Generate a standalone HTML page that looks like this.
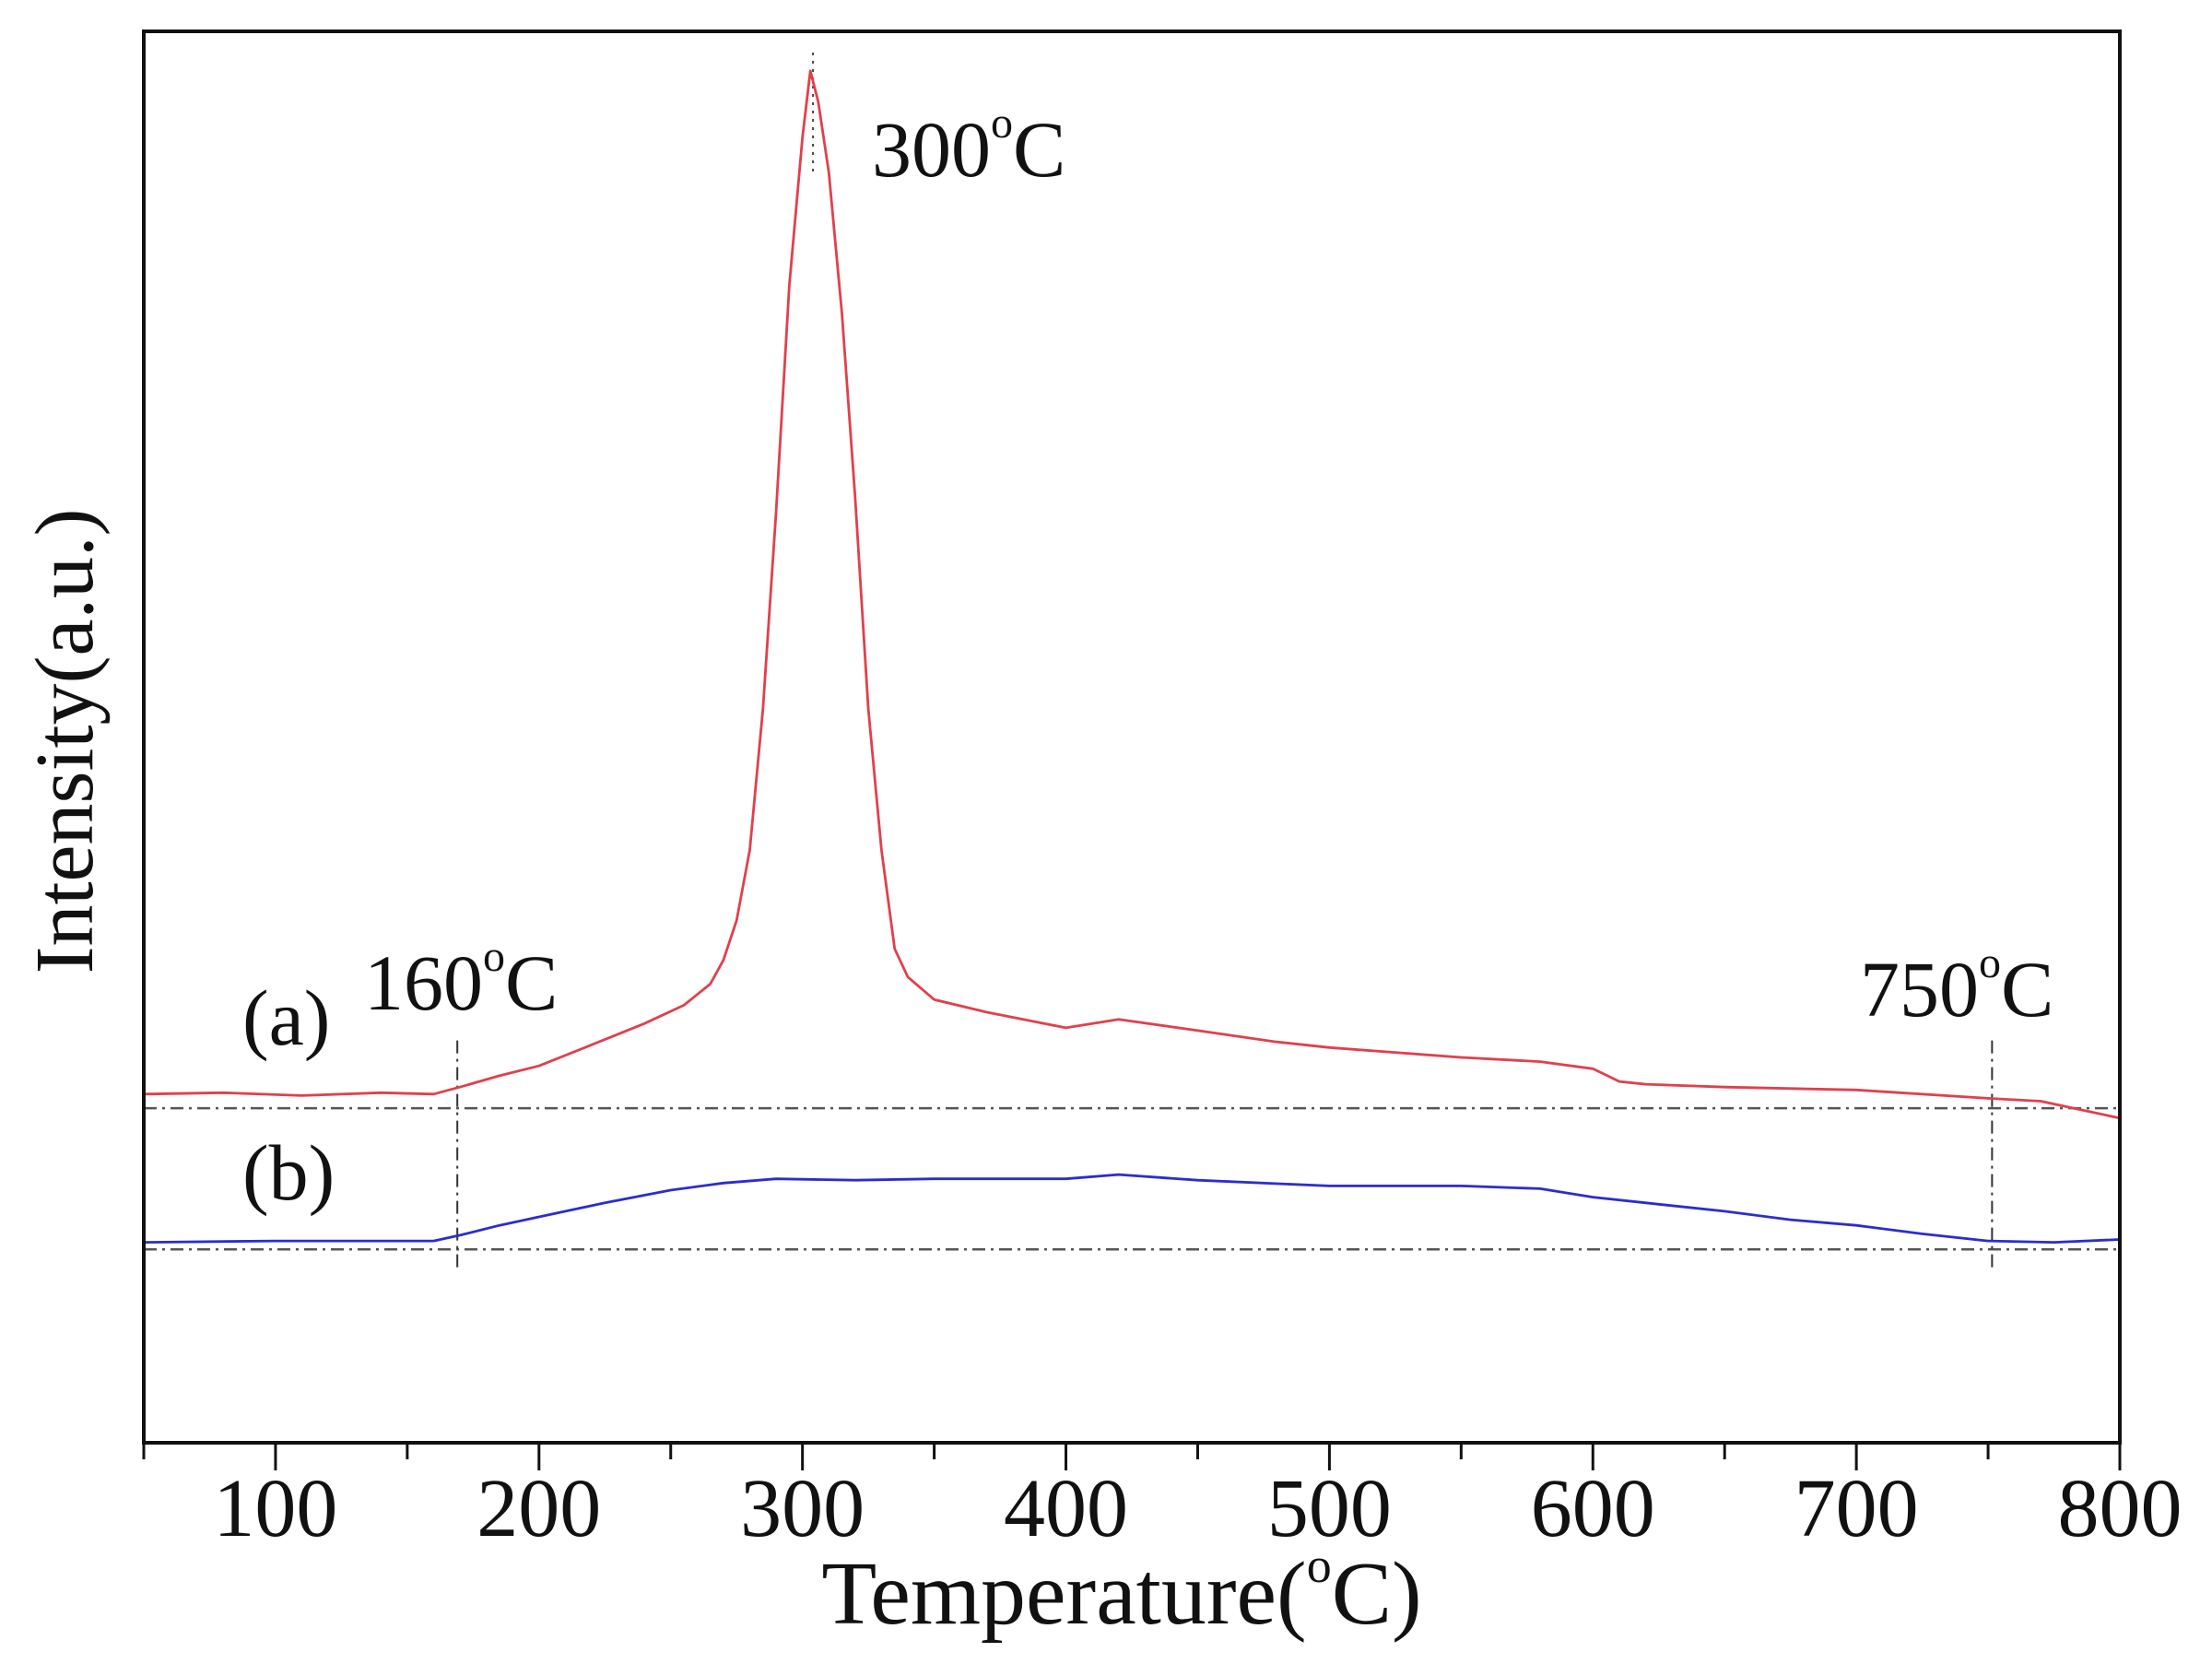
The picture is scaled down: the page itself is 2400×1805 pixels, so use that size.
<!DOCTYPE html>
<html><head><meta charset="utf-8"><style>
html,body{margin:0;padding:0;background:#fff;}
svg{display:block;}
text{font-family:"Liberation Serif",serif;fill:#111;}
</style></head><body>
<svg id="chart" width="2400" height="1805" viewBox="0 0 2400 1805" xmlns="http://www.w3.org/2000/svg">
<g id="plot"></g>
</svg>
<script>
const tempsA = [50,80,110,140,160,170,185,200,220,240,255,265,270,275,280,285,290,295,300,303,306,310,315,320,325,330,335,340,350,370,400,420,450,480,500,550,580,600,610,620,650,700,750,770,800];
const intensA = [24.7,24.8,24.6,24.8,24.7,25.2,26.0,26.7,28.2,29.7,31.0,32.5,34.2,37,42,52,66,82,92.5,97.2,95,90,80,67,52,42,35,33,31.4,30.5,29.4,30.0,29.2,28.4,28.0,27.3,27.0,26.5,25.6,25.4,25.2,25.0,24.4,24.2,23.0];
const tempsB = [50,100,160,170,185,200,225,250,270,290,320,350,400,420,450,500,550,580,600,625,650,675,700,725,750,775,800];
const intensB = [14.2,14.3,14.3,14.7,15.4,16.0,17.0,17.9,18.4,18.7,18.6,18.7,18.7,19.0,18.6,18.2,18.2,18.0,17.4,16.9,16.4,15.8,15.4,14.8,14.3,14.2,14.4];
const xTicks = [100,200,300,400,500,600,700,800];
const xMinor = [50,150,250,350,450,550,650,750];
const baseA = 23.7, baseB = 13.7;
const markTemps = [169, 751.5];
const peakTemp = 304;

const L=156,R=2300,T=34,B=1565;
const X0=50,X1=800,Y0=0,Y1=100;
const xS=v=>L+(v-X0)/(X1-X0)*(R-L);
const yS=v=>B-(v-Y0)/(Y1-Y0)*(B-T);
const NS="http://www.w3.org/2000/svg";
const plot=document.getElementById('plot');
function mk(tag,attrs,parent){const e=document.createElementNS(NS,tag);for(const k in attrs)e.setAttribute(k,attrs[k]);(parent||plot).appendChild(e);return e;}

let e;
e=mk('line',{x1:L,x2:R,y1:yS(baseA),y2:yS(baseA),stroke:'#555','stroke-width':2.5,'stroke-dasharray':'14 6 3 6'});


e=mk('line',{x1:L,x2:R,y1:yS(baseB),y2:yS(baseB),stroke:'#555','stroke-width':2.5,'stroke-dasharray':'14 6 3 6'});


markTemps.forEach((t,i)=>{
  const l=mk('line',{x1:xS(t),x2:xS(t),y1:yS(28.5),y2:yS(12.2),stroke:'#333','stroke-width':2,'stroke-dasharray':'14 6 3 6'});
  
  
});
e=mk('line',{x1:xS(peakTemp),x2:xS(peakTemp),y1:yS(98.5),y2:yS(89.7),stroke:'#444','stroke-width':2,'stroke-dasharray':'3 6'});



function path(ts,vs){return ts.map((t,i)=>(i?'L':'M')+xS(t).toFixed(1)+','+yS(vs[i]).toFixed(1)).join(' ');}
e=mk('path',{d:path(tempsA,intensA),fill:'none',stroke:'#e0404c','stroke-width':2.8,'stroke-linejoin':'round'});


e=mk('path',{d:path(tempsB,intensB),fill:'none',stroke:'#2c2cd0','stroke-width':2.8,'stroke-linejoin':'round'});



e=mk('rect',{x:L,y:T,width:R-L,height:B-T,fill:'none',stroke:'#111','stroke-width':4});


xTicks.forEach(t=>{
  const l=mk('line',{x1:xS(t),x2:xS(t),y1:B,y2:B+30,stroke:'#111','stroke-width':3});
  
  
  const tx=mk('text',{x:xS(t),y:1666,'text-anchor':'middle','font-size':90});
  tx.textContent=t;
  
  
});
xMinor.forEach(t=>{
  const l=mk('line',{x1:xS(t),x2:xS(t),y1:B,y2:B+18,stroke:'#111','stroke-width':3});
  
  
});
</script>
<svg style="position:absolute;left:0;top:0" width="2400" height="1805" viewBox="0 0 2400 1805" xmlns="http://www.w3.org/2000/svg">
<text x="1217" y="1761" text-anchor="middle" font-size="98">Temperature(<tspan font-size="54" dy="-45">o</tspan><tspan dy="45">C)</tspan></text>
<text transform="translate(100,804) rotate(-90)" text-anchor="middle" font-size="90">Intensity(a.u.)</text>
<text x="946" y="191" font-size="86">300<tspan font-size="48" dy="-42">o</tspan><tspan dy="42">C</tspan></text>
<text x="395" y="1095" font-size="86">160<tspan font-size="48" dy="-42">o</tspan><tspan dy="42">C</tspan></text>
<text x="2018" y="1102" font-size="86">750<tspan font-size="48" dy="-42">o</tspan><tspan dy="42">C</tspan></text>
<text x="263" y="1133" font-size="86">(a)</text>
<text x="263" y="1301" font-size="86">(b)</text>
</svg>
</body></html>
